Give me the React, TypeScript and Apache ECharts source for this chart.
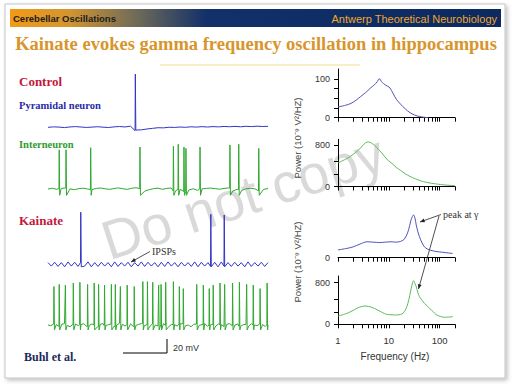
import React, { useEffect, useRef } from "react";
import * as echarts from "echarts";

const SERIF = '"Liberation Serif", "Times New Roman", serif';
const SANS = '"Liberation Sans", Arial, sans-serif';

// ---------- Traces (time in ms, voltage in mV relative to rest) ----------
const TIME_MAX = 1000;

const ctrlPyrBase = [0, 0.6, 0.3, -0.4, 0.5, 1.0, 0.4, -0.2, 0.3, 0.8, 0.2, -0.3, 0.6, 1.1, 0.5, 1.6,
  -4.8, -3.6, -2.4, -1.5, -0.6, -0.8, 0.1, -0.2, 0.4, 0.0, 0.7, 0.3, 0.9, 0.4, 1.0, 0.6, 1.2, 0.8,
  1.3, 0.7, 1.5, 1.0, 1.6, 1.1, 1.4];
const ctrlPyrSpikes = [397];
const ctrlPyrHeights = [76];

const ctrlIntBase = [0, 1, -0.5, 0.8, 1.5, 0.2, -1.0, 0.5, 1.2, 0.0, -0.8, 0.9, 1.4, 0.3, -0.6, 0.7,
  1.6, 0.4, -0.5, 1.0, 1.8, 0.6, -3.0, -1.0, 0.5, 1.1, -0.4, 0.8, 1.5, -2.5, -0.5, -3.5, -1.5, 0.4,
  -2.0, 0.2, 0.9, 1.3, 0.5, -0.3, 0.8, 1.4, -2.8, -0.6, -2.2, 0.4, 1.0, 0.3, -2.5, -0.4, 0.6];
const ctrlIntSpikes = [51, 82, 194, 418, 570, 592, 618, 627, 691, 827, 867, 958];
const ctrlIntHeights = [56, 56, 59, 60, 61, 64, 60, 58, 60, 63, 64, 58];

const kaiPyrBase = [2, -3, 2.5, -3.5, 2, -4, 3, -3, 2.5, -3.5, 2, -3, 3, -4, 2, -3.5, 2.5, -3, 2, -4,
  3, -3.5, 2, -3, 2.5, -4, 2, -3, 3, -3.5, 2.5, -3, 2, -4, 2.5, -3.5, 3, -3, 2, -4, 2.5, -3, 2, -3.5,
  3, -4, 2.5, -3, 2, -3.5, 2.5, -4, 3, -3, 2, -3.5, 2.5, -3, 2, -4, 3, -3.5, 2, -3, 2.5, -3.5, 2];
const kaiPyrSpikes = [149, 740, 801];
const kaiPyrHeights = [74, 71, 70];

const kaiIntBase = [0, -1, 1.5, 0.5, -2, 1, 2, -0.5, -2.5, 1, 1.5, -1, 0.5, 2, -2, -0.5, 1.5, 0, -2.5,
  1, 2, -1, 0.5, 1.5, -2, 0, 2.5, 1, -1.5, 0.5, 1.5, -2, -0.5, 1, 2, -1, 0.5, -2, 1.5, 0, -1.5, 1, 2,
  -0.5, -2, 1, 0.5, -1.5, 1.5, 2, -1, 0, -2.5, 1, 1.5, -0.5, 0.5, 2, -2, 0, 1, -1.5, 1.5, 0.5, -2, 1,
  2, -1, 0, 1.5, -2, 0.5, 1, -1.5, 2, 0, -1, 1.5, 0.5, -2, 0];
const kaiIntSpikes = [27, 51, 79, 115, 145, 180, 210, 230, 257, 288, 306, 329, 360, 392, 431, 452, 476,
  503, 514, 535, 570, 597, 615, 676, 706, 733, 751, 782, 803, 839, 870, 903, 933, 964, 996];
const kaiIntHeights = [55, 58, 57, 60, 61, 58, 60, 58, 57, 58, 58, 55, 57, 55, 62, 62, 61, 57, 58, 61,
  62, 55, 52, 58, 57, 52, 57, 60, 58, 60, 61, 58, 57, 52, 60];

// ---------- Power spectra (frequency Hz, power 10^-9 V^2/Hz) ----------
const ctrlPyrFreq = [1, 1.4, 1.8, 2.3, 2.8, 3.5, 4.3, 5.2, 5.9, 6.5, 7.2, 7.9, 8.7, 9.6, 10.5, 12, 14, 17, 21, 26, 32, 40, 50, 60];
const ctrlPyrPow = [28, 32, 37, 46, 55, 65, 76, 85, 93, 101, 93, 88, 84, 81, 77, 64, 48, 35, 23, 13, 7, 3, 1, 0];

const ctrlIntFreq = [1, 1.5, 2, 2.5, 3, 3.5, 4, 4.6, 5.3, 6.2, 7.2, 8.4, 9.7, 11.5, 14, 17, 21, 26, 33, 42, 55, 70, 90, 120, 160, 200];
const ctrlIntPow = [455, 540, 620, 700, 780, 845, 860, 835, 790, 720, 650, 570, 500, 445, 368, 310, 245, 195, 150, 110, 80, 62, 46, 32, 22, 16];

const kaiPyrFreq = [1, 1.5, 2, 2.7, 3.7, 5, 6.5, 8.5, 11, 14, 17, 19.5, 22, 24.5, 27, 29, 30.7, 32.5, 34.6, 37, 40, 45, 50, 58, 67, 85, 114, 150, 180];
const kaiPyrPow = [20, 24, 28, 35, 41, 40, 39, 40, 41, 40, 42, 46, 56, 72, 95, 106, 110, 103, 84, 68, 54, 38, 28, 22, 19, 16, 14, 12, 11];

const kaiIntFreq = [1, 1.4, 1.8, 2.5, 3.4, 4.6, 6, 7.5, 9, 11, 14, 17, 19, 21.5, 23.7, 25.7, 27.6, 29.3, 30.7, 32.5, 34.6, 37, 40, 45, 50, 57, 63, 75, 85, 105, 124, 150, 180];
const kaiIntPow = [160, 200, 245, 320, 352, 327, 275, 225, 192, 183, 179, 190, 212, 290, 404, 550, 692, 800, 840, 790, 723, 620, 531, 460, 404, 350, 308, 240, 185, 150, 135, 140, 146];

const FREQ_TICKS = [1, 2, 3, 4, 5, 6, 7, 8, 9, 10, 20, 30, 40, 50, 60, 70, 80, 90, 100, 200];
const FREQ_LABELS = [1, 10, 100];

const BLUE_TRACE = "#3434c4";
const GREEN_TRACE = "#30a830";
const BLUE_SPEC = "#5252bb";
const GREEN_SPEC = "#5cba5c";

function buildTrace(base: number[], spikes: number[], heights: number[], under: number): number[][] {
  const dt = TIME_MAX / (base.length - 1);
  const pts: number[][] = [];
  base.forEach((v, i) => {
    const t = i * dt;
    if (!spikes.some((s) => t > s - 3 && t < s + 3)) pts.push([t, v]);
  });
  spikes.forEach((s, k) => {
    const pre = base[Math.min(base.length - 1, Math.round(s / dt))];
    pts.push([s - 1.2, pre], [s, heights[k]], [s + 2.2, under]);
  });
  pts.sort((a, b) => a[0] - b[0]);
  return pts;
}

function pairs(f: number[], v: number[]) {
  return f.map((x, i) => [x, v[i]]);
}

function arrow(x1: number, y1: number, x2: number, y2: number) {
  const ang = Math.atan2(y2 - y1, x2 - x1);
  const s = 5;
  const p = (a: number) => [x2 - s * Math.cos(ang + a), y2 - s * Math.sin(ang + a)];
  return [
    { type: "line", shape: { x1, y1, x2, y2 }, style: { stroke: "#222", lineWidth: 0.8 } },
    { type: "polygon", shape: { points: [[x2, y2], p(0.4), p(-0.4)] }, style: { fill: "#222" } },
  ];
}

function txt(x: number, y: number, text: string, font: string, fill: string, align = "left", extra: any = {}) {
  return {
    type: "text",
    x,
    y,
    ...extra,
    style: { text, font, fill, textAlign: align, align, textVerticalAlign: "middle", verticalAlign: "middle", ...(extra.style || {}) },
  };
}

export default function App() {
  const ref = useRef<HTMLDivElement>(null);
  useEffect(() => {
    if (!ref.current) return;
    const chart = echarts.init(ref.current, undefined, { renderer: "svg" });

    const PXMV = 0.7; // px per mV
    const TRACE_H = 70;
    const YMIN = -15;
    const YMAX = YMIN + TRACE_H / PXMV;
    const traceBaselines = [127.3, 189, 264, 325];
    const traceGrids = traceBaselines.map((b) => ({ left: 48, width: 220, top: b - YMAX * PXMV, height: TRACE_H }));

    const specGrids = [
      { left: 338, width: 117, top: 69, height: 48.7 },
      { left: 338, width: 117, top: 139.3, height: 47.2 },
      { left: 338, width: 117, top: 208, height: 49.7 },
      { left: 338, width: 117, top: 276, height: 48.3 },
    ];
    const specMax = [126, 910, 128, 929];
    const specYTicks = [[0, 25, 50, 75, 100], [0, 240, 480, 800], [], [0, 240, 480, 800]];
    const specYLabels = [[0, 100], [0, 800], [0], [0, 800]];

    const grids = [...traceGrids, ...specGrids];
    const xAxes: any[] = [];
    const yAxes: any[] = [];
    traceGrids.forEach((_, i) => {
      xAxes.push({ type: "value", gridIndex: i, min: 0, max: TIME_MAX, show: false });
      yAxes.push({ type: "value", gridIndex: i, min: YMIN, max: YMAX, show: false });
    });
    specGrids.forEach((_, j) => {
      const gi = j + 4;
      xAxes.push({
        type: "log",
        logBase: 10,
        gridIndex: gi,
        min: 1,
        max: 200,
        axisLine: { show: true, onZero: false, lineStyle: { color: "#000", width: 1 } },
        axisTick: { show: true, length: 4, customValues: FREQ_TICKS, lineStyle: { color: "#000", width: 1 } },
        axisLabel: { show: j === 3, customValues: FREQ_LABELS, fontSize: 9.5, color: "#333", fontFamily: SANS, margin: 11 },
        splitLine: { show: false },
        minorTick: { show: false },
      });
      yAxes.push({
        type: "value",
        gridIndex: gi,
        min: 0,
        max: specMax[j],
        axisLine: { show: j !== 2, onZero: false, lineStyle: { color: "#000", width: 1 } },
        axisTick: { show: j !== 2, length: 4, customValues: specYTicks[j], lineStyle: { color: "#000", width: 1 } },
        axisLabel: { show: true, customValues: specYLabels[j], fontSize: 9, color: "#333", fontFamily: SANS, margin: 8 },
        splitLine: { show: false },
      });
    });

    const traceSeries = [
      buildTrace(ctrlPyrBase, ctrlPyrSpikes, ctrlPyrHeights, -4),
      buildTrace(ctrlIntBase, ctrlIntSpikes, ctrlIntHeights, -9),
      buildTrace(kaiPyrBase, kaiPyrSpikes, kaiPyrHeights, -4),
      buildTrace(kaiIntBase, kaiIntSpikes, kaiIntHeights, -7),
    ].map((data, i) => ({
      type: "line",
      xAxisIndex: i,
      yAxisIndex: i,
      data,
      showSymbol: false,
      silent: true,
      lineStyle: { width: 1, color: i % 2 === 0 ? BLUE_TRACE : GREEN_TRACE },
    }));

    const specSeries = [
      pairs(ctrlPyrFreq, ctrlPyrPow),
      pairs(ctrlIntFreq, ctrlIntPow),
      pairs(kaiPyrFreq, kaiPyrPow),
      pairs(kaiIntFreq, kaiIntPow),
    ].map((data, j) => ({
      type: "line",
      xAxisIndex: j + 4,
      yAxisIndex: j + 4,
      data,
      smooth: 0.3,
      showSymbol: false,
      silent: true,
      lineStyle: { width: 1, color: j % 2 === 0 ? BLUE_SPEC : GREEN_SPEC },
    }));

    const scaleTop = 353 - 20 * PXMV;

    const graphic: any[] = [
      {
        type: "rect",
        z: -10,
        shape: { x: 5, y: 4, width: 500, height: 374 },
        style: { fill: "#fff", stroke: "#c4c4c4", lineWidth: 1, shadowBlur: 4, shadowColor: "rgba(0,0,0,0.25)", shadowOffsetX: 2, shadowOffsetY: 2 },
      },
      {
        type: "rect",
        z: -5,
        shape: { x: 10, y: 9, width: 491, height: 18 },
        style: {
          fill: new echarts.graphic.LinearGradient(0, 0, 1, 0, [
            { offset: 0, color: "#f39a17" },
            { offset: 0.12, color: "#d39530" },
            { offset: 0.26, color: "#6d6a58" },
            { offset: 0.4, color: "#12306a" },
            { offset: 1, color: "#0a2a60" },
          ]),
        },
      },
      txt(13, 18.5, "Cerebellar Oscillations", `bold 9.5px ${SANS}`, "#1d1d1d"),
      txt(497, 18.5, "Antwerp Theoretical Neurobiology", `11px ${SANS}`, "#f3a52a", "right"),
      txt(256, 44, "Kainate evokes gamma frequency oscillation in hippocampus", `bold 18.5px ${SERIF}`, "#d8952c", "center", {
        style: { shadowColor: "rgba(0,0,0,0.3)", shadowBlur: 1.5, shadowOffsetX: 1, shadowOffsetY: 1 },
      }),
      { type: "line", shape: { x1: 160, y1: 65, x2: 360, y2: 65 }, style: { stroke: "#f3e08a", lineWidth: 1.2 } },
      txt(243, 197, "Do not copy", `55px ${SANS}`, "rgba(185,185,185,0.55)", "center", { rotation: (18 * Math.PI) / 180, z: -1 }),
      txt(19, 81, "Control", `bold 13px ${SERIF}`, "#c2183c"),
      txt(19, 105, "Pyramidal neuron", `bold 10.5px ${SERIF}`, "#2a2aa8"),
      txt(19, 144, "Interneuron", `bold 10.5px ${SERIF}`, "#2e9c2e"),
      txt(19, 220, "Kainate", `bold 13px ${SERIF}`, "#c2183c"),
      txt(152, 251, "IPSPs", `10px ${SERIF}`, "#333"),
      ...arrow(150, 251.5, 131, 262),
      { type: "polyline", shape: { points: [[123, 353], [167, 353], [167, scaleTop]] }, style: { stroke: "#000", lineWidth: 1, fill: "none" } },
      txt(173, 348, "20 mV", `9px ${SANS}`, "#333"),
      txt(24, 357, "Buhl et al.", `bold 12px ${SERIF}`, "#1b2a5a"),
      txt(297, 138, "Power (10\u207B\u2079 V\u00B2/HZ)", `9.5px ${SANS}`, "#444", "center", { rotation: Math.PI / 2 }),
      txt(297, 262, "Power (10\u207B\u2079 V\u00B2/HZ)", `9.5px ${SANS}`, "#444", "center", { rotation: Math.PI / 2 }),
      txt(395, 356, "Frequency (Hz)", `10px ${SANS}`, "#333", "center"),
      txt(443, 214, "peak at \u03B3", `10px ${SERIF}`, "#333"),
      ...arrow(441, 214.5, 420, 222),
      ...arrow(439, 216, 418.5, 289),
    ];

    chart.setOption({
      animation: false,
      backgroundColor: "#fff",
      grid: grids,
      xAxis: xAxes,
      yAxis: yAxes,
      series: [...traceSeries, ...specSeries],
      graphic,
    });
    return () => chart.dispose();
  }, []);
  return <div ref={ref} style={{ position: "fixed", left: 0, top: 0, width: 512, height: 384 }} />;
}
